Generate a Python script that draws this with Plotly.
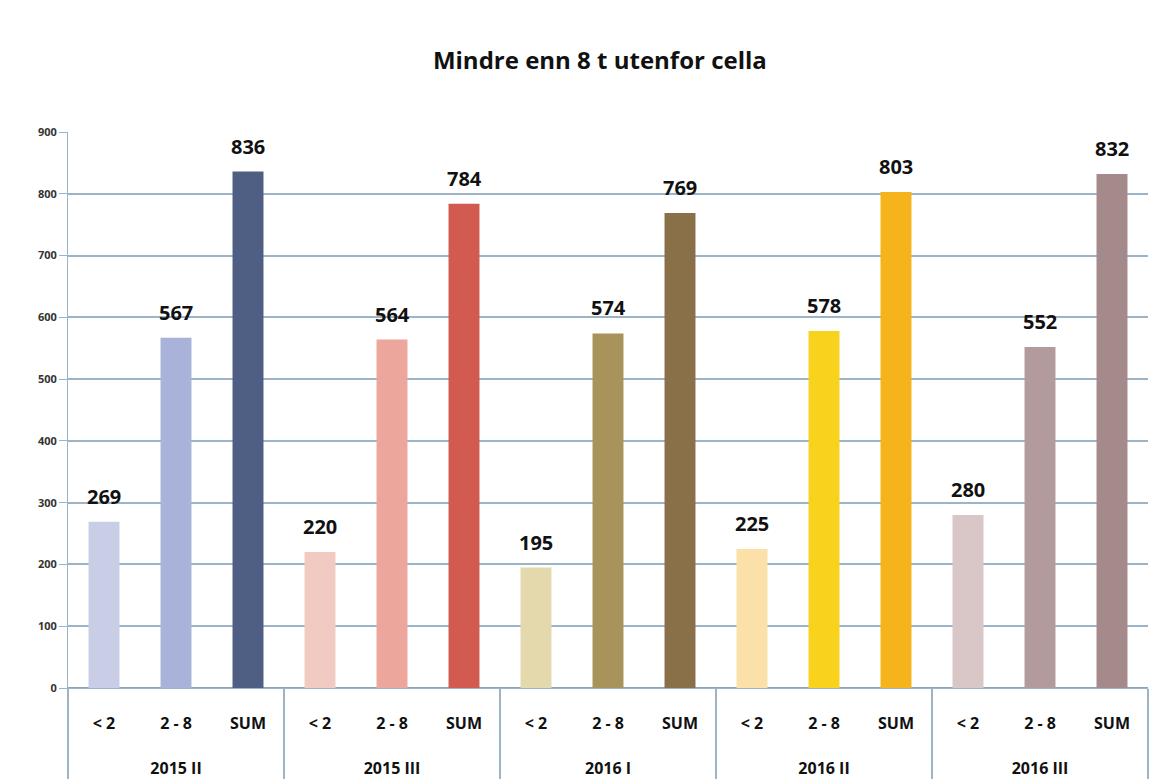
import plotly.graph_objects as go

periods = ['2015 II', '2015 III', '2016 I', '2016 II', '2016 III']
subcats = ['< 2', '2 - 8', 'SUM']
values = [
    [269, 567, 836],
    [220, 564, 784],
    [195, 574, 769],
    [225, 578, 803],
    [280, 552, 832],
]
colors = [
    ['#c9cde6', '#a9b2d9', '#4f5f83'],
    ['#f1cbc2', '#eca69b', '#d25a4e'],
    ['#e4d8ad', '#a8935a', '#8a7049'],
    ['#fbe1a8', '#f8d21c', '#f5b31c'],
    ['#d9c6c7', '#b39b9c', '#a48a8a'],
]

x_group, x_sub, y_vals, bar_colors = [], [], [], []
for p, vals, cols in zip(periods, values, colors):
    for s, v, c in zip(subcats, vals, cols):
        x_group.append(p)
        # blank lines around the label make the category cells taller
        x_sub.append('\u00a0<br>' + s + '<br>\u00a0')
        y_vals.append(v)
        bar_colors.append(c)

fig = go.Figure()
fig.add_trace(go.Bar(
    x=[x_group, x_sub], y=y_vals,
    marker=dict(color=bar_colors, line=dict(width=0)),
))

# value labels a bit higher above the bars than the default outside text
for i, v in enumerate(y_vals):
    fig.add_annotation(x=i, y=v, text=str(v), showarrow=False,
                       yanchor='bottom', yshift=10,
                       font=dict(size=20, color='#111', family='Open Sans', weight='bold'))

fig.update_layout(
    width=1172, height=779,
    paper_bgcolor='white', plot_bgcolor='white',
    margin=dict(l=60, r=32, t=124, b=99),
    bargap=0.57,
    showlegend=False,
    title=dict(text='Mindre enn 8 t utenfor cella', x=0.505, xanchor='center',
               y=0.932, yanchor='middle',
               font=dict(size=24, color='#111', family='Open Sans', weight='bold')),
)
fig.update_yaxes(range=[0, 900], dtick=100, showgrid=True, gridcolor='#9bb4c8',
                 gridwidth=1.5, zeroline=True, zerolinecolor='#8aa6bc',
                 showline=True, linecolor='#9bb4c8',
                 tickfont=dict(size=11, color='#333', family='Open Sans', weight='bold'),
                 ticks='outside', ticklen=8, tickcolor='#9bb4c8')
fig.update_xaxes(showdividers=True, dividercolor='#9bb4c8', dividerwidth=1.5,
                 showline=True, linecolor='#9bb4c8', automargin=False,
                 tickfont=dict(size=16, color='#111', family='Open Sans', weight='bold'))

fig.write_html('out.html')
